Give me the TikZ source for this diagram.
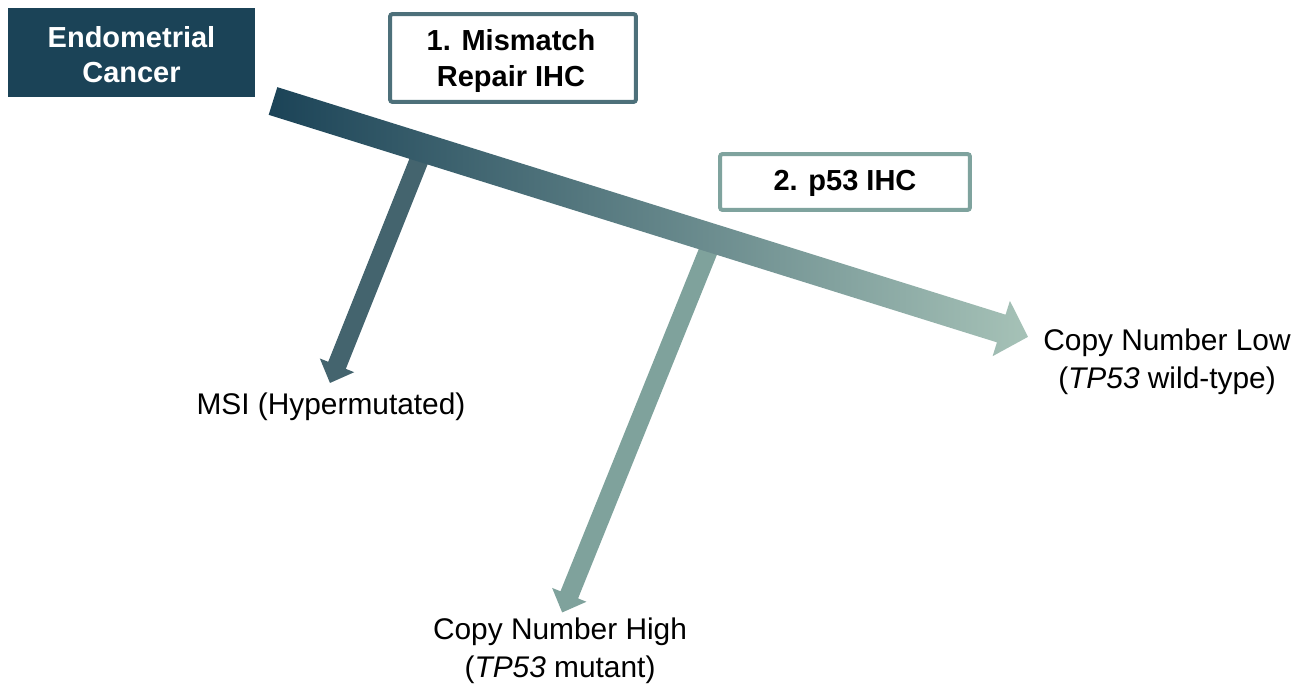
\documentclass[tikz,border=0pt]{standalone}
\usepackage{fontspec}
\setmainfont{Liberation Sans}
\definecolor{ecnavy}{HTML}{1B4357}
\definecolor{mmrline}{HTML}{4D707A}
\definecolor{pline}{HTML}{7FA39E}
\definecolor{branchA}{HTML}{44646E}
\definecolor{branchB}{HTML}{7FA29C}
\definecolor{trunkend}{HTML}{A6C2B7}
\begin{document}
\begin{tikzpicture}[x=0.02cm, y=-0.02cm,
  every node/.style={inner sep=0pt, outer sep=0pt},
  headbox/.style={fill=ecnavy},
  headtext/.style={text=white, align=center,
    font=\bfseries\fontsize{16.5pt}{20pt}\selectfont},
  testbox/.style={draw, line width=0.08cm, rounded corners=1.5pt, fill=white},
  testtext/.style={align=center, font=\bfseries\fontsize{16.5pt}{20.5pt}\selectfont},
  outcome/.style={align=center, font=\fontsize{17pt}{21.5pt}\selectfont}]
\useasboundingbox (0,0) rectangle (1291,685);

% anchor points of the three block arrows
\coordinate (trunk) at (273,101);
\coordinate (branchone) at (424.1,147.6);
\coordinate (branchtwo) at (712.6,240.1);

% branch to MSI
\begin{scope}[shift={(branchone)}, rotate=-111.8]
  \fill[branchA] (0,-9.5) -- (234.5,-9.5) -- (234.5,-18.5) -- (253.5,0)
    -- (234.5,18.5) -- (234.5,9.5) -- (0,9.5) -- cycle;
\end{scope}

% branch to copy number high
\begin{scope}[shift={(branchtwo)}, rotate=-112]
  \fill[branchB] (0,-9.5) -- (382.6,-9.5) -- (382.6,-18.5) -- (401.6,0)
    -- (382.6,18.5) -- (382.6,9.5) -- (0,9.5) -- cycle;
\end{scope}

% main trunk to copy number low
\begin{scope}[shift={(trunk)}, rotate=-17.35]
  \path[left color=ecnavy, right color=trunkend]
    (0,-14.5) -- (763,-14.5) -- (763,-29) -- (791,0)
    -- (763,29) -- (763,14.5) -- (0,14.5) -- cycle;
\end{scope}

% boxes
\node[headbox, minimum width=4.94cm, minimum height=1.78cm] (ec) at (131.5,52.5) {};
\node[headtext] (ectext) at (131.5,54.5) {Endometrial\\Cancer};
\node[testbox, draw=mmrline, minimum width=4.92cm, minimum height=1.76cm] (mmr) at (513,58) {};
\node[testtext] (mmrtext) at (511,61.5) {1. Mismatch\\Repair IHC};
\node[testbox, draw=pline, minimum width=5.0cm, minimum height=1.12cm] (p53) at (845,182) {};
\node[testtext] (p53text) at (845,183) {2. p53 IHC};

% outcomes
\node[outcome] (msi) at (331,407) {MSI (Hypermutated)};
\node[outcome] (cnl) at (1167,362) {Copy Number Low\\(\textit{TP53} wild-type)};
\node[outcome] (cnh) at (560,651) {Copy Number High\\(\textit{TP53} mutant)};
\end{tikzpicture}
\end{document}
